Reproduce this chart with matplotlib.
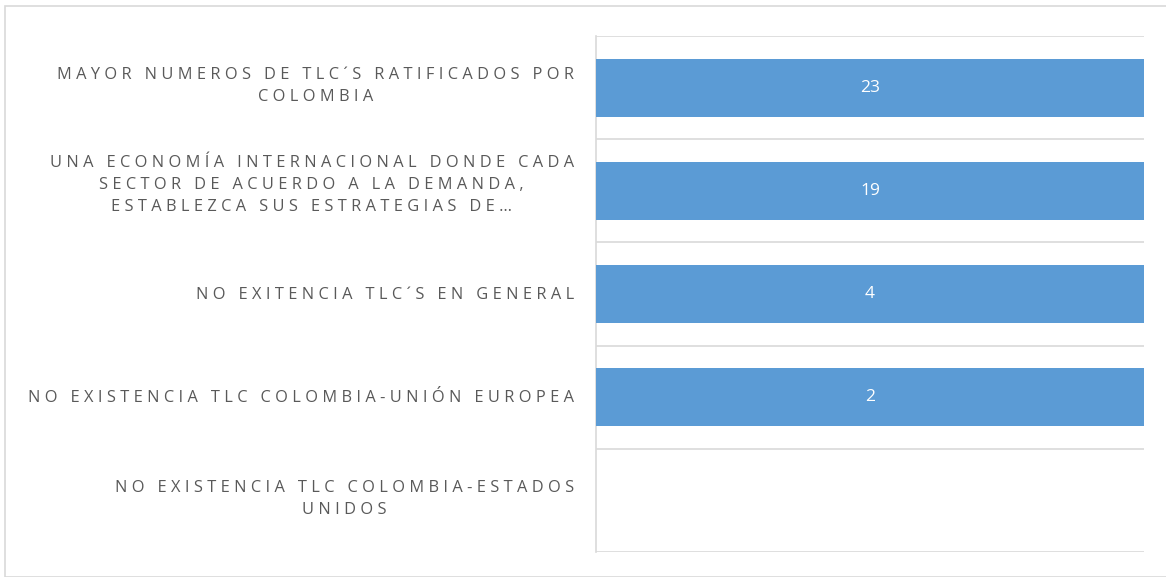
import numpy as np
import matplotlib.pyplot as plt
from matplotlib.patches import Rectangle
from matplotlib.transforms import offset_copy

# Category labels (top to bottom) and response counts
categories = [
    "MAYOR NUMEROS DE TLC´S RATIFICADOS POR\nCOLOMBIA",
    "UNA ECONOMÍA INTERNACIONAL DONDE CADA\nSECTOR DE ACUERDO A LA DEMANDA,\nESTABLEZCA SUS ESTRATEGIAS DE…",
    "NO EXITENCIA TLC´S EN GENERAL",
    "NO EXISTENCIA TLC COLOMBIA-UNIÓN EUROPEA",
    "NO EXISTENCIA TLC COLOMBIA-ESTADOS\nUNIDOS",
]
counts = [23, 19, 4, 2, 0]

bar_color = "#5B9BD5"
text_color = "#595959"
grid_color = "#D9D9D9"

# wrapped labels sit a little above the band centre
lift_pt = {1: -0.5, 2: 1.0, 3: 4.5}


def spaced(label):
    # widen the letter spacing of each line with thin + hair spaces
    return "\n".join("\u2009\u200a".join(line) for line in label.split("\n"))


plt.rcParams['font.family'] = ['Open Sans', 'DejaVu Sans']

fig = plt.figure(figsize=(11.66, 5.77), dpi=100)
fig.patches.append(Rectangle((5 / 1166, 0), 1.0, 1 - 6 / 577,
                             transform=fig.transFigure, fill=False,
                             edgecolor=grid_color, linewidth=1.2))
ax = fig.add_axes([0.5112, 0.0433, 0.4700, 0.8943])

# 100% stacked with a single series: each bar is its share of the row total
vals = np.array(counts, dtype=float)
totals = vals.copy()
share = np.divide(vals, totals, out=np.zeros_like(vals), where=totals > 0)

y = np.arange(len(categories))
bars = ax.barh(y, share, height=0.56, color=bar_color, zorder=3)
for rect, c in zip(bars, counts):
    if c > 0:
        ax.text(rect.get_x() + rect.get_width() / 2, rect.get_y() + rect.get_height() / 2,
                str(c), ha='center', va='center', color='white', fontsize=12.5, zorder=4)

ax.set_xlim(0, 1)
ax.set_ylim(len(categories) - 0.5, -0.5)

# category boundaries as horizontal gridlines
for b in np.arange(-0.5, len(categories), 1.0):
    ax.axhline(b, color=grid_color, linewidth=1.2, zorder=1)

# category labels to the left of the axis
ax.set_yticks(y)
ax.set_yticklabels([])
for yi, cat in zip(y, categories):
    n = cat.count("\n") + 1
    tr = offset_copy(ax.get_yaxis_transform(), fig=fig, x=-16, y=lift_pt[n], units='points')
    ax.text(0, yi, spaced(cat), transform=tr, ha='right', va='center',
            multialignment='center', fontsize=11.8, color=text_color, linespacing=1.5)
ax.tick_params(axis='y', length=0)
ax.tick_params(axis='x', length=0, labelbottom=False)

for side in ['top', 'right', 'bottom']:
    ax.spines[side].set_visible(False)
ax.spines['left'].set_color(grid_color)
ax.spines['left'].set_linewidth(1.2)

fig.savefig("out.png", dpi=100)
